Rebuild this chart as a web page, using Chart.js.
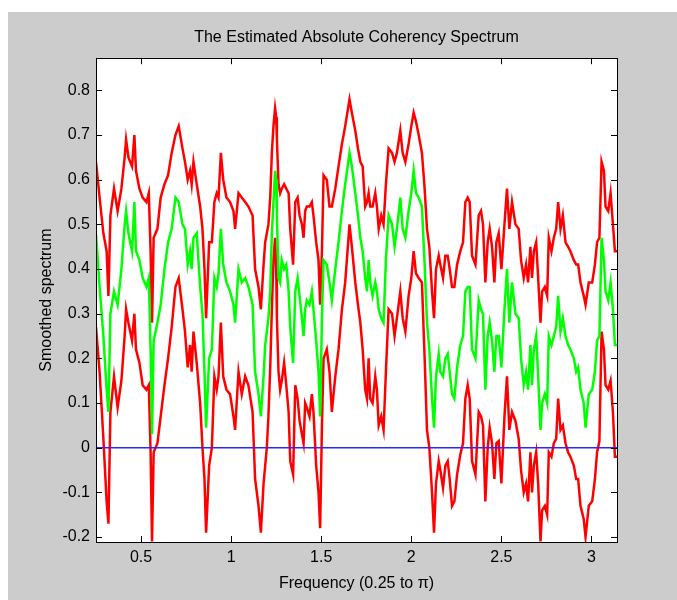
<!DOCTYPE html>
<html>
<head>
<meta charset="utf-8">
<title>The Estimated Absolute Coherency Spectrum</title>
<script src="https://cdn.jsdelivr.net/npm/chart.js@4.4.1/dist/chart.umd.min.js"></script>
<style>
  html, body { margin: 0; padding: 0; background: #ffffff; }
  #plot { display: block; }
</style>
</head>
<body>
<canvas id="plot" width="677" height="600"></canvas>
<script>
// Frequency grid (radians), from 0.25 up to pi
const freq = [
  0.250,0.270,0.291,0.309,0.319,0.330,0.350,0.370,0.391,0.409,0.417,0.430,0.450,0.463,0.472,0.491,0.509,0.530,0.543,0.553,0.561,0.570,0.591,0.609,0.630,0.650,0.670,0.691,0.709,0.730,
  0.744,0.759,0.772,0.781,0.791,0.809,0.828,0.841,0.852,0.861,0.878,0.893,0.907,0.920,0.930,0.943,0.956,0.974,0.994,1.013,1.022,1.041,1.059,1.078,1.096,1.119,1.133,1.152,1.165,
  1.180,1.189,1.198,1.207,1.217,1.226,1.235,1.244,1.250,1.254,1.263,1.272,1.281,1.294,1.306,1.319,1.328,1.344,1.356,1.369,1.380,1.393,1.402,1.411,1.420,1.435,1.448,1.457,1.472,1.485,1.494,1.504,1.513,1.531,1.546,1.559,1.578,1.596,1.615,1.633,1.657,1.670,1.689,
  1.704,1.717,1.730,1.744,1.754,1.763,1.772,1.785,1.800,1.809,1.819,1.833,1.846,1.859,1.874,1.893,1.907,1.920,1.939,1.952,1.967,1.985,2.000,2.013,2.026,2.041,2.059,2.074,2.087,2.100,2.115,2.126,2.137,2.152,
  2.161,2.176,2.189,2.202,2.213,2.226,2.239,2.254,2.272,2.287,2.300,2.313,2.324,2.337,2.356,2.374,2.387,2.398,2.411,2.424,2.435,2.448,2.461,2.472,2.485,2.500,2.517,2.531,2.544,2.559,2.578,2.596,2.609,2.624,
  2.637,2.648,2.661,2.670,2.680,2.693,2.704,2.717,2.726,2.741,2.754,2.763,2.778,2.791,2.804,2.815,2.828,2.841,2.856,2.870,2.883,2.902,2.915,2.926,2.939,2.957,2.967,2.985,3.004,3.019,3.031,3.044,3.056,3.069,3.078,3.093,3.106,3.119,3.130,3.1416
];

// Smoothed absolute coherency estimate
const estimate = [
  .48,.36,.25,.13,.08,.30,.35,.32,.40,.50,.53,.48,.44,.55,.44,.42,.38,.36,.38,.22,.03,.24,.28,.32,.40,.46,.49,.56,.55,.50,
  .49,.41,.44,.40,.47,.48,.36,.30,.17,.045,.20,.22,.38,.36,.39,.49,.41,.37,.35,.32,.28,.40,.37,.38,.36,.32,.17,.12,.07,
  .16,.23,.26,.29,.35,.48,.55,.62,.60,.52,.38,.37,.42,.40,.41,.35,.27,.19,.35,.38,.34,.29,.25,.31,.33,.32,.35,.31,.24,.17,.07,.29,.42,.41,.37,.33,.40,.46,.53,.59,.66,.63,.57,
  .52,.47,.44,.38,.35,.42,.37,.34,.37,.35,.31,.29,.28,.42,.52,.50,.45,.49,.56,.49,.47,.53,.57,.62,.57,.56,.54,.41,.28,.22,.11,.045,.16,.21,
  .17,.16,.20,.21,.17,.12,.11,.18,.23,.25,.35,.36,.36,.22,.20,.33,.31,.30,.13,.25,.28,.24,.17,.25,.25,.18,.31,.40,.28,.37,.30,.29,.20,.14,
  .17,.13,.23,.14,.22,.25,.16,.04,.10,.12,.10,.25,.23,.25,.27,.34,.26,.29,.25,.23,.22,.20,.17,.18,.13,.10,.045,.12,.13,.17,.24,.25,.47,.42,.35,.33,.37,.31,.23,.23
];

// Upper confidence band
const upperBand = [
  .64,.56,.48,.44,.34,.52,.58,.53,.58,.65,.69,.65,.63,.70,.62,.58,.56,.55,.57,.44,.28,.47,.49,.56,.59,.61,.66,.70,.72,.67,
  .64,.60,.62,.59,.64,.59,.54,.49,.40,.29,.46,.46,.55,.57,.56,.66,.60,.56,.55,.53,.49,.57,.56,.55,.54,.52,.40,.36,.31,
  .41,.46,.48,.50,.56,.66,.72,.76,.74,.69,.59,.57,.58,.59,.58,.57,.49,.41,.55,.56,.52,.50,.47,.53,.54,.54,.55,.52,.46,.42,.32,.44,.61,.60,.54,.54,.58,.63,.68,.72,.78,.75,.71,
  .67,.64,.63,.54,.55,.57,.54,.54,.57,.54,.49,.52,.50,.59,.67,.66,.64,.66,.71,.66,.64,.68,.72,.75,.73,.70,.66,.58,.49,.45,.35,.29,.40,.43,
  .41,.38,.43,.43,.40,.36,.36,.41,.44,.46,.55,.56,.55,.43,.41,.52,.53,.50,.37,.46,.49,.45,.37,.46,.48,.40,.50,.58,.49,.55,.50,.49,.42,.38,
  .41,.37,.45,.38,.44,.46,.38,.28,.35,.36,.34,.47,.44,.47,.49,.55,.49,.52,.46,.45,.44,.42,.41,.41,.37,.34,.32,.37,.37,.41,.46,.47,.64,.62,.54,.53,.57,.50,.44,.44
];

// Lower confidence band
const lowerBand = [
  .27,.17,.02,-.12,-.17,.08,.16,.09,.15,.25,.31,.28,.24,.30,.22,.19,.14,.13,.14,-.01,-.21,-.01,.01,.07,.14,.20,.27,.36,.38,.31,
  .26,.18,.23,.17,.26,.19,.10,.00,-.07,-.19,-.04,.00,.16,.13,.16,.28,.16,.13,.12,.07,.04,.17,.12,.16,.14,.08,-.07,-.13,-.19,
  -.08,-.04,.00,.07,.18,.31,.42,.47,.40,.29,.17,.13,.15,.19,.14,.08,-.03,-.06,.14,.11,.06,.03,.01,.10,.09,.07,.12,.08,-.04,-.10,-.18,.05,.20,.22,.17,.08,.16,.22,.31,.37,.50,.45,.37,
  .32,.28,.22,.13,.11,.20,.11,.10,.16,.13,.05,.07,.04,.17,.31,.30,.25,.29,.35,.29,.26,.34,.38,.44,.39,.38,.37,.20,.04,.00,-.10,-.19,-.08,-.03,
  -.05,-.09,-.04,-.03,-.07,-.13,-.12,-.06,-.015,.01,.11,.14,.11,-.03,-.06,.08,.07,.05,-.12,.00,.045,.01,-.07,.01,.015,-.08,.07,.16,.04,.08,.06,.02,-.05,-.10,
  -.08,-.12,-.01,-.10,-.04,-.01,-.08,-.21,-.14,-.13,-.15,-.01,-.02,.01,.02,.11,.04,.05,.01,-.01,-.02,-.04,-.07,-.07,-.13,-.16,-.20,-.13,-.12,-.07,-.01,.015,.26,.22,.14,.13,.15,.08,-.02,-.02
];

// Reference line at zero across the full frequency range
const zeroFreq = [0.25, Math.PI];
const zeroLevel = [0, 0];

// Axis limits and ticks
const xLimits = [0.25, Math.PI];
const yLimits = [-0.211, 0.872];
const xTickValues = [0.5, 1, 1.5, 2, 2.5, 3];
const xTickLabels = ['0.5', '1', '1.5', '2', '2.5', '3'];
const yTickValues = [-0.2, -0.1, 0, 0.1, 0.2, 0.3, 0.4, 0.5, 0.6, 0.7, 0.8];
const yTickLabels = ['-0.2', '-0.1', '0', '0.1', '0.2', '0.3', '0.4', '0.5', '0.6', '0.7', '0.8'];

const toPoints = (xs, ys) => xs.map((x, i) => ({ x: x, y: ys[i] }));

const FONT = '"Liberation Sans", Arial, Helvetica, sans-serif';
const FONT_SIZE = 16;

// Grey figure window with a white axes panel
const figureBackground = {
  id: 'figureBackground',
  beforeDraw(chart) {
    const { ctx, width, height, chartArea } = chart;
    ctx.save();
    ctx.fillStyle = '#ffffff';
    ctx.fillRect(0, 0, width, height);
    ctx.fillStyle = '#cccccc';
    ctx.fillRect(8, 12, width - 8, height - 12);
    ctx.fillStyle = '#ffffff';
    ctx.fillRect(chartArea.left, chartArea.top, chartArea.right - chartArea.left, chartArea.bottom - chartArea.top);
    ctx.restore();
  }
};

// Boxed axes with tick marks pointing inwards on all four sides
const boxedAxes = {
  id: 'boxedAxes',
  afterDraw(chart) {
    const { ctx, chartArea: a, scales } = chart;
    const len = 6;
    ctx.save();
    ctx.strokeStyle = '#000000';
    ctx.lineWidth = 1;
    ctx.beginPath();
    xTickValues.forEach(v => {
      const px = Math.round(scales.x.getPixelForValue(v)) + 0.5;
      ctx.moveTo(px, a.bottom); ctx.lineTo(px, a.bottom - len);
      ctx.moveTo(px, a.top); ctx.lineTo(px, a.top + len);
    });
    yTickValues.forEach(v => {
      const py = Math.round(scales.y.getPixelForValue(v)) + 0.5;
      ctx.moveTo(a.left, py); ctx.lineTo(a.left + len, py);
      ctx.moveTo(a.right, py); ctx.lineTo(a.right - len, py);
    });
    ctx.stroke();
    ctx.strokeRect(Math.round(a.left) + 0.5, Math.round(a.top) + 0.5,
                   Math.round(a.right - a.left), Math.round(a.bottom - a.top));
    ctx.restore();
  }
};

new Chart(document.getElementById('plot'), {
  type: 'line',
  data: {
    datasets: [
      { label: 'zero', data: toPoints(zeroFreq, zeroLevel), borderColor: 'rgb(40,40,255)', borderWidth: 1.5 },
      { label: 'estimate', data: toPoints(freq, estimate), borderColor: '#00ff00', borderWidth: 2.5 },
      { label: 'upper', data: toPoints(freq, upperBand), borderColor: '#ff0000', borderWidth: 2.5 },
      { label: 'lower', data: toPoints(freq, lowerBand), borderColor: '#ff0000', borderWidth: 2.5 }
    ]
  },
  options: {
    responsive: false,
    animation: false,
    devicePixelRatio: 1,
    parsing: false,
    normalized: true,
    elements: { point: { radius: 0, hoverRadius: 0 }, line: { tension: 0, fill: false } },
    layout: { padding: { left: 0, right: 60, top: 0, bottom: 0 } },
    plugins: {
      legend: { display: false },
      tooltip: { enabled: false },
      title: {
        display: true,
        fullSize: false,
        text: 'The Estimated Absolute Coherency Spectrum',
        color: '#000000',
        font: { family: FONT, size: FONT_SIZE, weight: 'normal' },
        padding: { top: 28, bottom: 11 }
      }
    },
    scales: {
      x: {
        type: 'linear',
        min: xLimits[0],
        max: xLimits[1],
        afterBuildTicks: s => { s.ticks = xTickValues.map(v => ({ value: v })); },
        afterFit: s => { s.height = 58; },
        grid: { display: false, drawTicks: false },
        border: { display: false },
        ticks: {
          color: '#000000',
          font: { family: FONT, size: FONT_SIZE },
          padding: 6,
          maxRotation: 0,
          autoSkip: false,
          callback: (v, i) => xTickLabels[i]
        },
        title: {
          display: true,
          text: 'Frequency (0.25 to π)',
          color: '#000000',
          font: { family: FONT, size: FONT_SIZE },
          padding: { top: 0, bottom: 7 }
        }
      },
      y: {
        type: 'linear',
        min: yLimits[0],
        max: yLimits[1],
        afterBuildTicks: s => { s.ticks = yTickValues.map(v => ({ value: v })); },
        afterFit: s => { s.width = 96; },
        grid: { display: false, drawTicks: false },
        border: { display: false },
        ticks: {
          color: '#000000',
          font: { family: FONT, size: FONT_SIZE },
          padding: 6,
          autoSkip: false,
          callback: (v, i) => yTickLabels[i]
        },
        title: {
          display: true,
          text: 'Smoothed spectrum',
          color: '#000000',
          font: { family: FONT, size: FONT_SIZE },
          padding: { top: 37, bottom: 0 }
        }
      }
    }
  },
  plugins: [figureBackground, boxedAxes]
});
</script>
</body>
</html>
